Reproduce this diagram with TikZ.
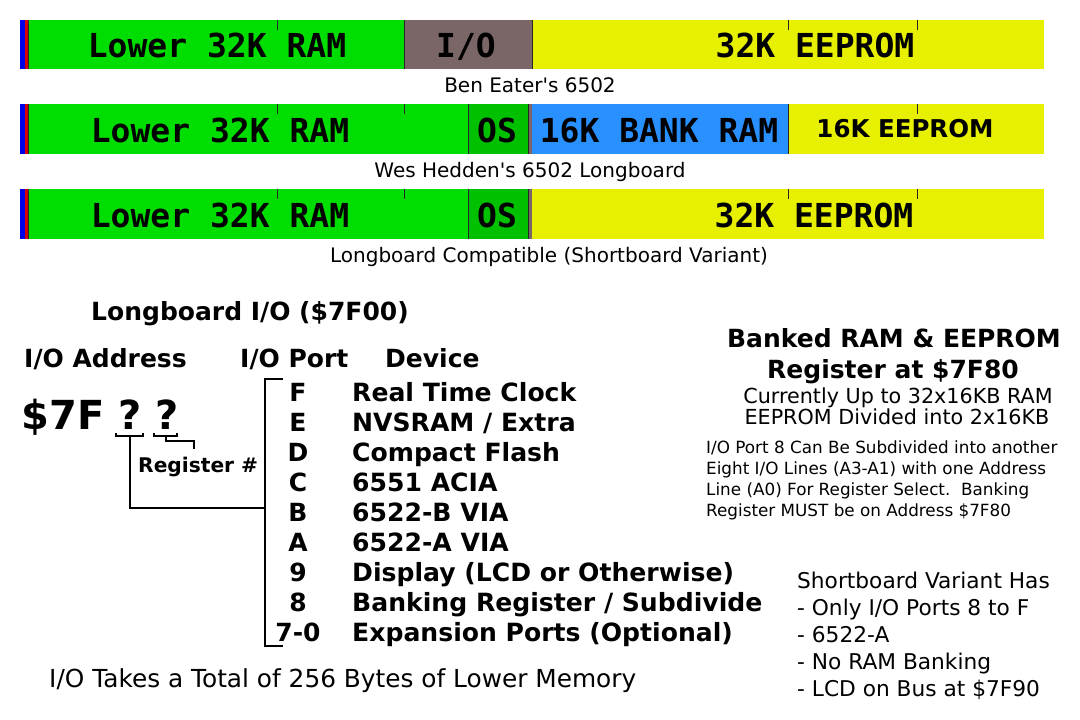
\documentclass[tikz,border=0pt]{standalone}
\usepackage{fontspec}
\setmainfont{DejaVu Sans}
\setmonofont{DejaVu Sans Mono}
\definecolor{ramgreen}{RGB}{0,221,0}
\definecolor{osgreen}{RGB}{0,192,0}
\definecolor{iobrown}{RGB}{122,102,102}
\definecolor{eeyellow}{RGB}{230,240,0}
\definecolor{bankblue}{RGB}{40,144,255}
\definecolor{zpblue}{RGB}{0,0,230}
\definecolor{stkred}{RGB}{210,0,0}
\newcommand\fsz[2]{\fontsize{#1}{#2}\selectfont}
\begin{document}
\begin{tikzpicture}[x=1pt,y=-1pt,
  barlbl/.style={font=\ttfamily\bfseries\fsz{33}{36}, anchor=base, inner sep=0pt},
  sanslbl/.style={font=\bfseries\fsz{24.5}{28}, anchor=base, inner sep=0pt},
  caption/.style={font=\fsz{20}{24}, anchor=base, inner sep=0pt},
  head/.style={font=\bfseries\fsz{25}{28}, anchor=base west, inner sep=0pt},
  headc/.style={font=\bfseries\fsz{25}{28}, anchor=base, inner sep=0pt},
  port/.style={font=\bfseries\fsz{25}{28}, anchor=base, inner sep=0pt},
  dev/.style={font=\bfseries\fsz{25.1}{28}, anchor=base west, inner sep=0pt},
  midtxt/.style={font=\fsz{20.7}{24}, anchor=base, inner sep=0pt},
  smalltxt/.style={font=\fsz{16.8}{21}, anchor=base west, inner sep=0pt},
  notetxt/.style={font=\fsz{21.7}{27}, anchor=base west, inner sep=0pt},
  divider/.style={line width=0.9pt, black!85},
  tick/.style={line width=0.9pt, black!85},
  wire/.style={line width=1.2pt, black}]
\useasboundingbox (0,0) rectangle (1080,720);
\fill[white] (0,0) rectangle (1080,720);

% ---------- Bar 1: Ben Eater's 6502 ----------
\fill[zpblue] (20,20) rectangle (24.5,69);
\fill[stkred] (24.5,20) rectangle (28,69);
\fill[ramgreen] (28,20) rectangle (404,69);
\fill[iobrown] (404,20) rectangle (532,69);
\fill[eeyellow] (532,20) rectangle (1044,69);
\foreach \x in {28,404,532} \draw[divider] (\x,20) -- (\x,69);
\foreach \x in {277,788,917} \draw[tick] (\x,20) -- (\x,30);
\node[barlbl] (b1ram) at (217,57) {Lower 32K RAM};
\node[barlbl] (b1io) at (466,57) {I/O};
\node[barlbl] (b1rom) at (815,57) {32K EEPROM};
\node[caption] (cap1) at (530,92) {Ben Eater\textquotesingle s 6502};

% ---------- Bar 2: Wes Hedden's 6502 Longboard ----------
\fill[zpblue] (20,104) rectangle (24.5,154);
\fill[stkred] (24.5,104) rectangle (28,154);
\fill[ramgreen] (28,104) rectangle (468,154);
\fill[osgreen] (468,104) rectangle (528,154);
\fill[iobrown] (528,104) rectangle (532,154);
\fill[bankblue] (532,104) rectangle (788,154);
\fill[eeyellow] (788,104) rectangle (1044,154);
\foreach \x in {28,468,528,788} \draw[divider] (\x,104) -- (\x,154);
\foreach \x in {277,404,917} \draw[tick] (\x,104) -- (\x,114);
\node[barlbl] (b2ram) at (220,142) {Lower 32K RAM};
\node[barlbl] (b2os) at (497,142) {OS};
\node[barlbl] (b2bank) at (659,142) {16K BANK RAM};
\node[sanslbl] (b2rom) at (905,137) {16K EEPROM};
\node[caption] (cap2) at (530,177) {Wes Hedden\textquotesingle s 6502 Longboard};

% ---------- Bar 3: Longboard Compatible ----------
\fill[zpblue] (20,189) rectangle (24.5,239);
\fill[stkred] (24.5,189) rectangle (28,239);
\fill[ramgreen] (28,189) rectangle (468,239);
\fill[osgreen] (468,189) rectangle (528,239);
\fill[iobrown] (528,189) rectangle (532,239);
\fill[eeyellow] (532,189) rectangle (1044,239);
\foreach \x in {28,468,528} \draw[divider] (\x,189) -- (\x,239);
\foreach \x in {277,404,788,917} \draw[tick] (\x,189) -- (\x,199);
\node[barlbl] (b3ram) at (220,227) {Lower 32K RAM};
\node[barlbl] (b3os) at (497,227) {OS};
\node[barlbl] (b3rom) at (814,227) {32K EEPROM};
\node[caption] (cap3) at (549,262) {Longboard Compatible (Shortboard Variant)};

% ---------- Longboard I/O ----------
\node[head] (lbio) at (91,320) {Longboard I/O (\$7F00)};
\node[head] (hAddr) at (24,367) {I/O Address};
\node[head] (hPort) at (240,367) {I/O Port};
\node[head] (hDev) at (385,367) {Device};

\node[font=\bfseries\fsz{40}{44}, anchor=base, inner sep=0pt] (addr) at (100,429.5) {\$7F ? ?};
\node[font=\bfseries\fsz{20.2}{23}, anchor=base west, inner sep=0pt] (reg) at (138,472) {Register \#};

% brackets under the two ?
\coordinate (q1l) at (116,433); \coordinate (q1r) at (143,433);
\coordinate (q1m) at (130,436);
\coordinate (q2l) at (154,433); \coordinate (q2r) at (177,433);
\coordinate (q2m) at (166,436);
\coordinate (portTop) at (283,379); \coordinate (portBot) at (283,646);
\coordinate (portJoin) at (265,508);
\coordinate (regTop) at (194,449);
\draw[wire] (q1l) -- ++(0,3) -| (q1r);
\draw[wire] (q2l) -- ++(0,3) -| (q2r);
\draw[wire] (q1m) |- (portJoin);
\draw[wire] (q2m) -- ++(0,5) -| (regTop);
\draw[wire] (portTop) -- (265,379) -- (265,646) -- (portBot);

% ports and devices
\foreach \p/\d/\y [count=\i] in {F/Real Time Clock/401, E/NVSRAM \slash\ Extra/431, D/Compact Flash/461, C/6551 ACIA/491, B/6522-B VIA/521, A/6522-A VIA/551, 9/Display (LCD or Otherwise)/581, 8/Banking Register \slash\ Subdivide/611, 7-0/Expansion Ports (Optional)/641}{
  \node[port] (p\i) at (298,\y) {\p};
  \node[dev] (d\i) at (352,\y) {\d};
}

\node[font=\fsz{24.8}{28}, anchor=base west, inner sep=0pt] (total) at (49,687) {I/O Takes a Total of 256 Bytes of Lower Memory};

% ---------- Banked RAM ----------
\node[headc] (bk1) at (894,347) {Banked RAM \& EEPROM};
\node[headc] (bk2) at (893,378) {Register at \$7F80};
\node[midtxt] (bk3) at (898,403) {Currently Up to 32x16KB RAM};
\node[midtxt] (bk4) at (897,424) {EEPROM Divided into 2x16KB};
\node[smalltxt] (s1) at (706,453) {I/O Port 8 Can Be Subdivided into another};
\node[smalltxt] (s2) at (706,474) {Eight I/O Lines (A3-A1) with one Address};
\node[smalltxt] (s3) at (706,495) {Line (A0) For Register Select.\ \ Banking};
\node[smalltxt] (s4) at (706,516) {Register MUST be on Address \$7F80};

% ---------- Shortboard ----------
\node[notetxt] (n1) at (797,588) {Shortboard Variant Has};
\node[notetxt] (n2) at (797,615) {- Only I/O Ports 8 to F};
\node[notetxt] (n3) at (797,642) {- 6522-A};
\node[notetxt] (n4) at (797,669) {- No RAM Banking};
\node[notetxt] (n5) at (797,696) {- LCD on Bus at \$7F90};
\end{tikzpicture}
\end{document}
